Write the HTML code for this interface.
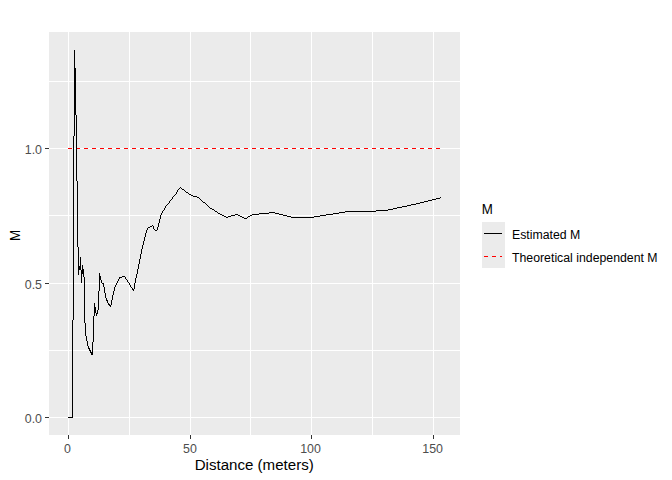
<!DOCTYPE html>
<html><head><meta charset="utf-8"><style>
html,body{margin:0;padding:0;background:#fff;}
body{width:672px;height:480px;overflow:hidden;}
svg{display:block;font-family:"Liberation Sans",sans-serif;}
</style></head><body>
<svg width="672" height="480" viewBox="0 0 672 480">
<rect x="0" y="0" width="672" height="480" fill="#fff"/>
<rect x="49" y="32" width="411" height="403" fill="#EBEBEB"/>
<g shape-rendering="crispEdges">
<rect x="129" y="32" width="1" height="403" fill="#fff"/>
<rect x="250" y="32" width="1" height="403" fill="#fff"/>
<rect x="372" y="32" width="1" height="403" fill="#fff"/>
<rect x="68" y="32" width="1" height="403" fill="#fff"/>
<rect x="190" y="32" width="1" height="403" fill="#fff"/>
<rect x="311" y="32" width="1" height="403" fill="#fff"/>
<rect x="433" y="32" width="1" height="403" fill="#fff"/>
<rect x="49" y="81" width="411" height="1" fill="#fff"/>
<rect x="49" y="215" width="411" height="1" fill="#fff"/>
<rect x="49" y="350" width="411" height="1" fill="#fff"/>
<rect x="49" y="148" width="411" height="1" fill="#fff"/>
<rect x="49" y="283" width="411" height="1" fill="#fff"/>
<rect x="49" y="417" width="411" height="1" fill="#fff"/>
</g>
<g shape-rendering="crispEdges">
<rect x="68" y="435" width="1" height="4" fill="#333"/>
<rect x="190" y="435" width="1" height="4" fill="#333"/>
<rect x="311" y="435" width="1" height="4" fill="#333"/>
<rect x="433" y="435" width="1" height="4" fill="#333"/>
<rect x="45" y="148" width="4" height="1" fill="#333"/>
<rect x="45" y="283" width="4" height="1" fill="#333"/>
<rect x="45" y="417" width="4" height="1" fill="#333"/>
</g>
<line x1="68" y1="148.5" x2="440" y2="148.5" stroke="#FF0000" stroke-width="1" stroke-dasharray="4 4" shape-rendering="crispEdges"/>
<g fill="#000" shape-rendering="crispEdges"><rect x="72" y="320" width="1" height="98"/><rect x="73" y="136" width="1" height="184"/><rect x="74" y="50" width="1" height="86"/><rect x="75" y="68" width="1" height="47"/><rect x="76" y="115" width="1" height="66"/><rect x="77" y="181" width="1" height="66"/><rect x="78" y="247" width="1" height="28"/><rect x="79" y="266" width="1" height="4"/><rect x="80" y="257" width="1" height="13"/><rect x="81" y="270" width="1" height="13"/><rect x="82" y="265" width="1" height="9"/><rect x="83" y="269" width="1" height="8"/><rect x="84" y="277" width="1" height="46"/><rect x="85" y="323" width="1" height="13"/><rect x="86" y="336" width="1" height="5"/><rect x="87" y="341" width="1" height="5"/><rect x="88" y="346" width="1" height="3"/><rect x="89" y="348" width="1" height="3"/><rect x="90" y="350" width="1" height="3"/><rect x="91" y="352" width="1" height="3"/><rect x="92" y="342" width="1" height="13"/><rect x="93" y="316" width="1" height="26"/><rect x="94" y="303" width="1" height="13"/><rect x="95" y="307" width="1" height="6"/><rect x="96" y="313" width="1" height="3"/><rect x="97" y="310" width="1" height="4"/><rect x="98" y="291" width="1" height="19"/><rect x="99" y="273" width="1" height="18"/><rect x="68" y="417" width="5" height="1"/><rect x="100" y="276" width="1" height="4"/><rect x="101" y="280" width="1" height="3"/><rect x="102" y="283" width="1" height="1"/><rect x="103" y="283" width="1" height="4"/><rect x="104" y="287" width="1" height="6"/><rect x="105" y="293" width="1" height="5"/><rect x="106" y="298" width="1" height="3"/><rect x="107" y="300" width="1" height="3"/><rect x="108" y="303" width="1" height="2"/><rect x="109" y="304" width="1" height="2"/><rect x="110" y="305" width="1" height="2"/><rect x="111" y="300" width="1" height="5"/><rect x="112" y="295" width="1" height="5"/><rect x="113" y="291" width="1" height="4"/><rect x="114" y="287" width="1" height="4"/><rect x="115" y="285" width="1" height="2"/><rect x="116" y="283" width="1" height="2"/><rect x="117" y="281" width="1" height="2"/><rect x="118" y="279" width="1" height="2"/><rect x="119" y="277" width="1" height="2"/><rect x="120" y="277" width="2" height="1"/><rect x="122" y="276" width="3" height="1"/><rect x="125" y="277" width="1" height="2"/><rect x="126" y="279" width="1" height="1"/><rect x="127" y="280" width="1" height="2"/><rect x="128" y="282" width="1" height="1"/><rect x="129" y="283" width="1" height="2"/><rect x="130" y="285" width="1" height="2"/><rect x="131" y="287" width="1" height="1"/><rect x="132" y="288" width="1" height="2"/><rect x="133" y="289" width="1" height="2"/><rect x="134" y="283" width="1" height="6"/><rect x="135" y="278" width="1" height="5"/><rect x="136" y="274" width="1" height="4"/><rect x="137" y="269" width="1" height="5"/><rect x="138" y="264" width="1" height="5"/><rect x="139" y="259" width="1" height="5"/><rect x="140" y="254" width="1" height="5"/><rect x="141" y="249" width="1" height="5"/><rect x="142" y="245" width="1" height="4"/><rect x="143" y="241" width="1" height="4"/><rect x="144" y="237" width="1" height="4"/><rect x="145" y="233" width="1" height="4"/><rect x="146" y="230" width="1" height="3"/><rect x="147" y="228" width="1" height="2"/><rect x="148" y="227" width="2" height="1"/><rect x="150" y="226" width="2" height="1"/><rect x="152" y="225" width="1" height="1"/><rect x="153" y="226" width="1" height="3"/><rect x="154" y="229" width="1" height="1"/><rect x="155" y="230" width="2" height="1"/><rect x="157" y="227" width="1" height="3"/><rect x="158" y="223" width="1" height="4"/><rect x="159" y="219" width="1" height="4"/><rect x="160" y="215" width="1" height="4"/><rect x="161" y="213" width="1" height="2"/><rect x="162" y="211" width="1" height="2"/><rect x="163" y="210" width="1" height="1"/><rect x="164" y="208" width="1" height="2"/><rect x="165" y="206" width="1" height="2"/><rect x="166" y="205" width="1" height="1"/><rect x="167" y="204" width="1" height="1"/><rect x="168" y="203" width="1" height="1"/><rect x="169" y="201" width="1" height="2"/><rect x="170" y="200" width="1" height="1"/><rect x="171" y="199" width="1" height="1"/><rect x="172" y="197" width="1" height="2"/><rect x="173" y="196" width="1" height="1"/><rect x="174" y="195" width="1" height="1"/><rect x="175" y="194" width="1" height="1"/><rect x="176" y="192" width="1" height="2"/><rect x="177" y="190" width="1" height="2"/><rect x="178" y="189" width="1" height="1"/><rect x="179" y="188" width="1" height="1"/><rect x="180" y="187" width="1" height="1"/><rect x="181" y="188" width="1" height="1"/><rect x="182" y="189" width="2" height="1"/><rect x="184" y="190" width="1" height="1"/><rect x="185" y="191" width="1" height="1"/><rect x="186" y="192" width="2" height="1"/><rect x="188" y="193" width="1" height="1"/><rect x="189" y="194" width="2" height="1"/><rect x="191" y="195" width="2" height="1"/><rect x="193" y="196" width="4" height="1"/><rect x="197" y="197" width="2" height="1"/><rect x="199" y="198" width="1" height="1"/><rect x="200" y="199" width="1" height="1"/><rect x="201" y="200" width="1" height="1"/><rect x="202" y="201" width="1" height="1"/><rect x="203" y="202" width="2" height="1"/><rect x="205" y="203" width="1" height="1"/><rect x="206" y="204" width="1" height="1"/><rect x="207" y="205" width="1" height="1"/><rect x="208" y="206" width="1" height="1"/><rect x="209" y="207" width="1" height="1"/><rect x="210" y="208" width="2" height="1"/><rect x="212" y="209" width="2" height="1"/><rect x="214" y="210" width="1" height="1"/><rect x="215" y="211" width="2" height="1"/><rect x="217" y="212" width="1" height="1"/><rect x="218" y="213" width="2" height="1"/><rect x="220" y="214" width="2" height="1"/><rect x="222" y="215" width="2" height="1"/><rect x="224" y="216" width="2" height="1"/><rect x="226" y="217" width="2" height="1"/><rect x="228" y="216" width="3" height="1"/><rect x="231" y="215" width="4" height="1"/><rect x="235" y="214" width="3" height="1"/><rect x="238" y="215" width="2" height="1"/><rect x="240" y="216" width="2" height="1"/><rect x="242" y="217" width="2" height="1"/><rect x="244" y="218" width="3" height="1"/><rect x="247" y="217" width="1" height="1"/><rect x="248" y="216" width="2" height="1"/><rect x="250" y="215" width="2" height="1"/><rect x="252" y="214" width="7" height="1"/><rect x="259" y="213" width="10" height="1"/><rect x="269" y="212" width="6" height="1"/><rect x="275" y="213" width="4" height="1"/><rect x="279" y="214" width="4" height="1"/><rect x="283" y="215" width="4" height="1"/><rect x="287" y="216" width="4" height="1"/><rect x="291" y="217" width="23" height="1"/><rect x="314" y="216" width="6" height="1"/><rect x="320" y="215" width="6" height="1"/><rect x="326" y="214" width="7" height="1"/><rect x="333" y="213" width="6" height="1"/><rect x="339" y="212" width="6" height="1"/><rect x="345" y="211" width="31" height="1"/><rect x="376" y="210" width="12" height="1"/><rect x="388" y="209" width="5" height="1"/><rect x="393" y="208" width="4" height="1"/><rect x="397" y="207" width="5" height="1"/><rect x="402" y="206" width="5" height="1"/><rect x="407" y="205" width="4" height="1"/><rect x="411" y="204" width="5" height="1"/><rect x="416" y="203" width="4" height="1"/><rect x="420" y="202" width="4" height="1"/><rect x="424" y="201" width="4" height="1"/><rect x="428" y="200" width="4" height="1"/><rect x="432" y="199" width="4" height="1"/><rect x="436" y="198" width="4" height="1"/><rect x="440" y="197" width="1" height="1"/></g>
<g font-size="12.4px" fill="#4D4D4D" letter-spacing="0px">
<text x="42" y="153.8" text-anchor="end">1.0</text>
<text x="42" y="288.8" text-anchor="end">0.5</text>
<text x="42" y="423" text-anchor="end">0.0</text>
<text x="67.5" y="453" text-anchor="middle">0</text>
<text x="190" y="453" text-anchor="middle">50</text>
<text x="310.5" y="453" text-anchor="middle">100</text>
<text x="432.6" y="453" text-anchor="middle">150</text>
</g>
<g font-size="15.1px" fill="#000">
<text x="254.2" y="469.9" text-anchor="middle" letter-spacing="0px">Distance (meters)</text>
<text transform="translate(20,235.4) rotate(-90) scale(0.86,1)" text-anchor="middle" font-size="15.5px">M</text>
<text transform="translate(481.8,213.9) scale(0.86,1)" font-size="15.5px">M</text>
</g>
<rect x="482" y="222" width="23" height="46" fill="#EBEBEB"/>
<line x1="484" y1="233.5" x2="502" y2="233.5" stroke="#000" stroke-width="1" shape-rendering="crispEdges"/>
<line x1="484" y1="256.5" x2="502" y2="256.5" stroke="#FF0000" stroke-width="1" stroke-dasharray="4 4" shape-rendering="crispEdges"/>
<g font-size="12.3px" fill="#000" letter-spacing="0px">
<text x="512" y="238.7">Estimated M</text>
<text x="512" y="262">Theoretical independent M</text>
</g>
</svg>
</body></html>
